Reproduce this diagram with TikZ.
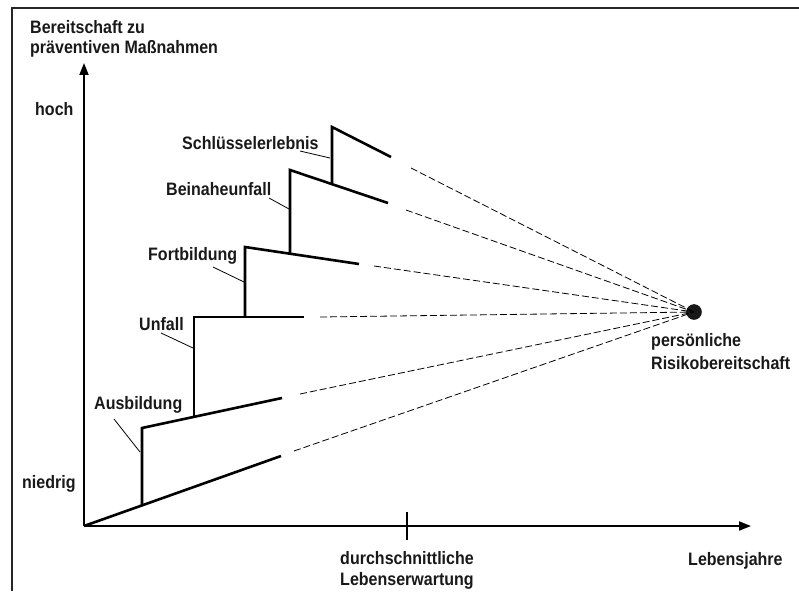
\documentclass[tikz,border=0pt]{standalone}
\usepackage{graphicx}
\usepackage{fontspec}
\setmainfont{Liberation Sans}
\usetikzlibrary{arrows.meta}
\newcommand{\sqz}[1]{\scalebox{0.89}[1]{#1}}
\tikzset{
  lbl/.style={font=\bfseries\fontsize{18}{21}\selectfont, inner sep=0pt, text=black!90},
  stair/.style={line width=2.6pt, line cap=butt, line join=miter},
  axis/.style={line width=1.8pt, -{Triangle[length=12pt,width=9pt]}},
  ray/.style={line width=0.8pt, dash pattern=on 7pt off 3pt},
  leader/.style={line width=0.8pt},
  framel/.style={line width=2pt, black!85}
}
\begin{document}
\begin{tikzpicture}[x=1pt,y=-1pt]
\useasboundingbox (0,0) rectangle (799,591);
% frame (cropped)
\draw[framel] (799,8) -- (12,8) -- (12,591);
% axes
\coordinate (O) at (84,526);
\coordinate (ytop) at (84,63);
\coordinate (xend) at (751,526);
\draw[axis] (O) -- (ytop);
\draw[axis] (O) -- (xend);
\coordinate (tickT) at (407,512);
\coordinate (tickB) at (407,540);
\draw[line width=1.8pt] (tickT) -- (tickB);
% dot
\node[circle, fill=black!90, draw=black, inner sep=0pt, minimum size=15pt] (dot) at (694,312) {};
% stair points
\coordinate (b1) at (142,505);
\coordinate (e0) at (281,456);
\coordinate (d0) at (294,451);
\coordinate (a1) at (142,428);
\coordinate (b2) at (194,417);
\coordinate (e1) at (282,398);
\coordinate (d1) at (300,394);
\coordinate (a2) at (194,317);
\coordinate (b3) at (245,317);
\coordinate (e2) at (304,317);
\coordinate (d2) at (320,317);
\coordinate (a3) at (245,247);
\coordinate (b4) at (290,254);
\coordinate (e3) at (359,264);
\coordinate (d3) at (374,266);
\coordinate (a4) at (290,170);
\coordinate (b5) at (332,183);
\coordinate (e4) at (388,203);
\coordinate (d4) at (406,210);
\coordinate (a5) at (332,127);
\coordinate (e5) at (391,157);
\coordinate (d5) at (411,168);
% solid stairs
\draw[stair] (O) -- (e0);
\draw[stair] (b1) -- (a1) -- (e1);
\draw[stair] (b2) -- (a2) -- (e2);
\draw[stair] (b3) -- (a3) -- (e3);
\draw[stair] (b4) -- (a4) -- (e4);
\draw[stair] (b5) -- (a5) -- (e5);
% dashed rays
\foreach \d in {d0,d1,d2,d3,d4,d5} \draw[ray] (\d) -- (dot.center);
% labels
\node[lbl, anchor=base west] (t1) at (30,34) {\sqz{Bereitschaft zu}};
\node[lbl, anchor=base west] (t2) at (30,54) {\sqz{präventiven Maßnahmen}};
\node[lbl, anchor=base west] (hoch) at (35,115) {\sqz{hoch}};
\node[lbl, anchor=base west] (nied) at (22,488) {\sqz{niedrig}};
\node[lbl, anchor=base west] (schl) at (182,149) {\sqz{Schlüsselerlebnis}};
\node[lbl, anchor=base west] (bein) at (166,195) {\sqz{Beinaheunfall}};
\node[lbl, anchor=base west] (fort) at (148,260) {\sqz{Fortbildung}};
\node[lbl, anchor=base west] (unf) at (139,330) {\sqz{Unfall}};
\node[lbl, anchor=base west] (ausb) at (94,409) {\sqz{Ausbildung}};
\node[lbl, anchor=base] (dl1) at (407,564) {\sqz{durchschnittliche}};
\node[lbl, anchor=base] (dl2) at (407,585) {\sqz{Lebenserwartung}};
\node[lbl, anchor=base west] (lj) at (688,565) {\sqz{Lebensjahre}};
\node[lbl, anchor=base west] (pr1) at (651,346) {\sqz{persönliche}};
\node[lbl, anchor=base west] (pr2) at (651,369) {\sqz{Risikobereitschaft}};
% leaders
\coordinate (l1a) at (300,151); \coordinate (l1b) at (330,158);
\coordinate (l2a) at (269,198); \coordinate (l2b) at (289,209);
\coordinate (l3a) at (213,267); \coordinate (l3b) at (244,282);
\coordinate (l4a) at (161,333); \coordinate (l4b) at (193,348);
\coordinate (l5a) at (114,419); \coordinate (l5b) at (140,452);
\draw[leader] (l1a) -- (l1b);
\draw[leader] (l2a) -- (l2b);
\draw[leader] (l3a) -- (l3b);
\draw[leader] (l4a) -- (l4b);
\draw[leader] (l5a) -- (l5b);
\end{tikzpicture}
\end{document}
